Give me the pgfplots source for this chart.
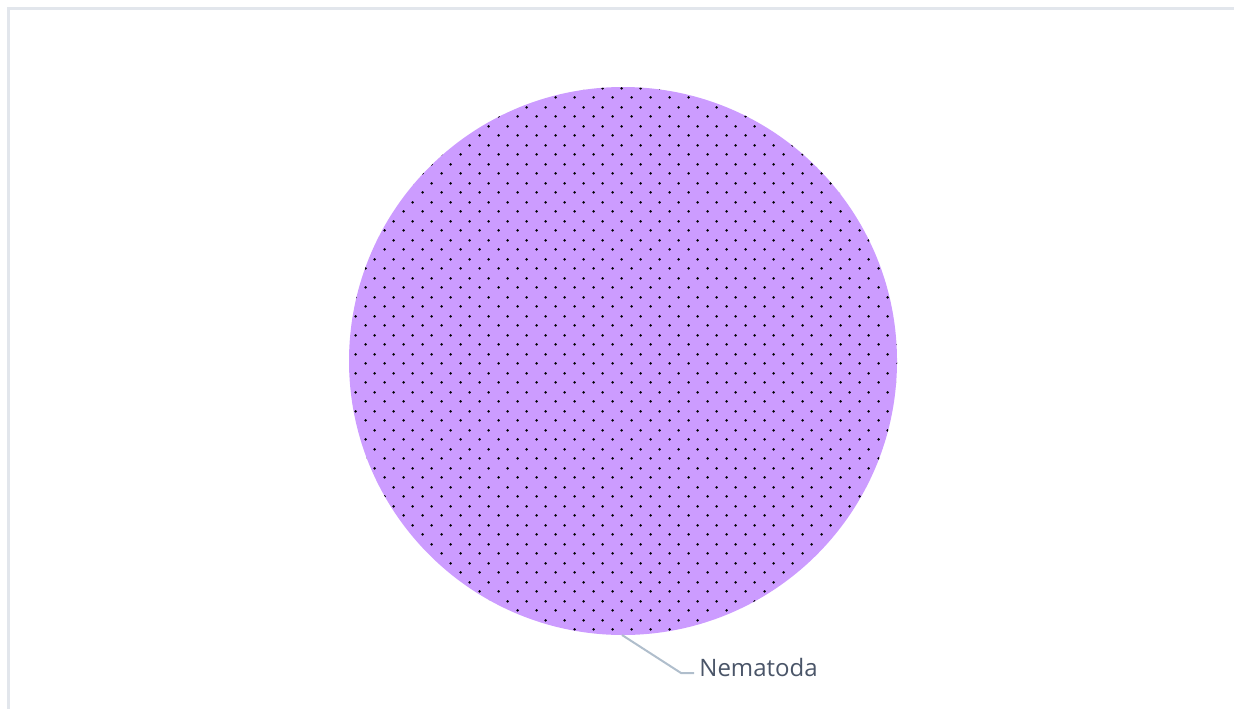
\documentclass[border=0pt]{standalone}
\usepackage{pgfplots}
\pgfplotsset{compat=1.18}
\usepackage{pgfplotstable}
\usepackage{fontspec}
\setmainfont{Open Sans}
\usetikzlibrary{patterns.meta}
\definecolor{piecolor}{RGB}{204,156,255}
\definecolor{framegray}{RGB}{226,230,236}
\definecolor{leadergray}{RGB}{176,190,204}
\definecolor{labelcol}{RGB}{74,85,104}
\pgfdeclarepattern{
  name=piedots, type=uncolored,
  bottom left={\pgfpoint{0pt}{0pt}},
  top right={\pgfpoint{9.5pt}{9.5pt}},
  tile size={\pgfpoint{9.5pt}{9.5pt}},
  code={
    \pgfpathcircle{\pgfpoint{2.4pt}{2.4pt}}{0.72pt}
    \pgfpathcircle{\pgfpoint{7.15pt}{7.15pt}}{0.72pt}
    \pgfusepath{fill}
  }
}
\pgfplotstableread{
label value
Nematoda 100
}\piedata
\begin{document}
\begin{tikzpicture}
\pgfplotstablegetelem{0}{value}\of\piedata
\pgfmathsetmacro{\sliceang}{\pgfplotsretval/100*360}
\begin{axis}[
  width=617pt, height=354.5pt, scale only axis,
  xmin=0, xmax=1234, ymin=0, ymax=709,
  hide axis, clip=false,
]
\coordinate (bl) at (axis cs:0,0);
\coordinate (tr) at (axis cs:1234,709);
% frame
\draw[framegray, line width=1.3pt] (axis cs:8.5,0) -- (axis cs:8.5,700.5) -- (axis cs:1234,700.5);
% pie slice (100%), angle from the data value
\fill[piecolor] (axis cs:623,348) -- (axis cs:623,622) arc[start angle=90, delta angle=-\sliceang, radius=137pt] -- cycle;
\fill[pattern=piedots, pattern color=black] (axis cs:623,348) -- (axis cs:623,622) arc[start angle=90, delta angle=-\sliceang, radius=137pt] -- cycle;
% leader line and label
\draw[leadergray, line width=1pt] (axis cs:622,74) -- (axis cs:681,36) -- (axis cs:694,36);
\node[anchor=west, text=labelcol, font=\fontsize{12pt}{14pt}\selectfont, inner sep=0pt] at (axis cs:699,42) {Nematoda};
\end{axis}
\pgfresetboundingbox
\path (bl) rectangle (tr);
\end{tikzpicture}
\end{document}
